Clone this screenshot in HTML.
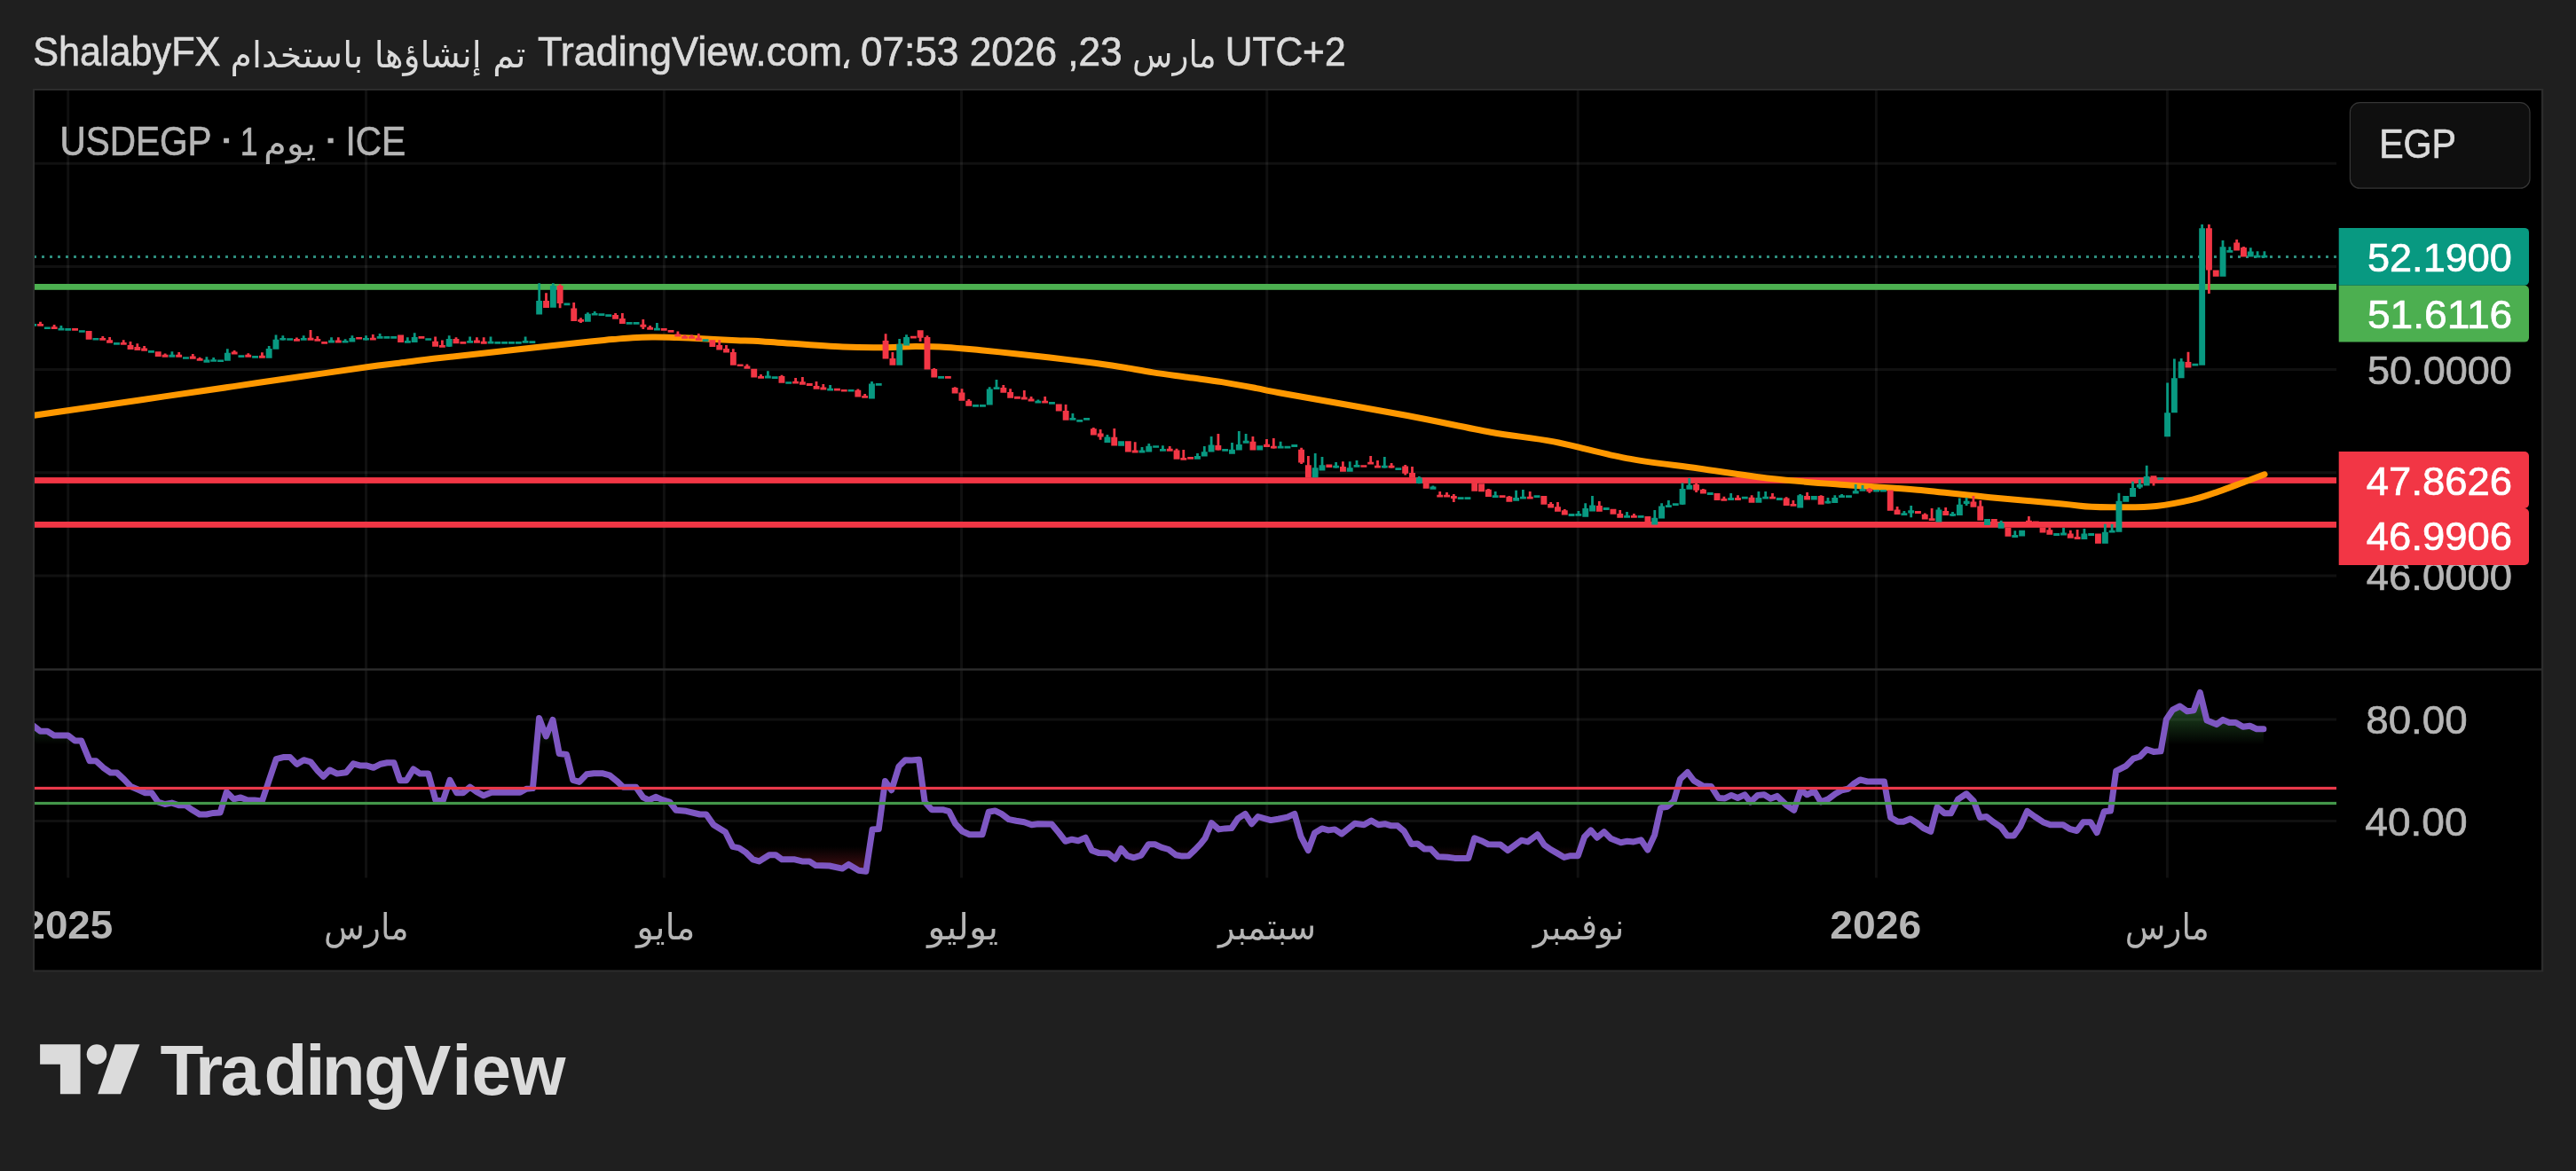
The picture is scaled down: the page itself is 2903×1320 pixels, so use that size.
<!DOCTYPE html><html lang="ar"><head><meta charset="utf-8"><title>USDEGP</title>
<style>html,body{margin:0;padding:0;background:#1f1f1f;}body{width:2903px;height:1320px;overflow:hidden;position:relative;}svg{position:absolute;left:0;top:0;display:block;will-change:transform;}text{font-family:'Liberation Sans','DejaVu Sans',sans-serif;}.ar{font-family:'DejaVu Sans','Liberation Sans',sans-serif;}</style></head><body>
<svg width="2903" height="1320" viewBox="0 0 2903 1320">
<defs>
<clipPath id="cp"><rect x="39" y="102" width="2594" height="991.5"/></clipPath>
<clipPath id="cbox"><rect x="39" y="102" width="2825" height="991.5"/></clipPath>
<linearGradient id="gUp" gradientUnits="userSpaceOnUse" x1="0" y1="782" x2="0" y2="839.5"><stop offset="0" stop-color="#4caf50" stop-opacity="0.55"/><stop offset="1" stop-color="#4caf50" stop-opacity="0"/></linearGradient>
<linearGradient id="gDn" gradientUnits="userSpaceOnUse" x1="0" y1="954.2" x2="0" y2="985"><stop offset="0" stop-color="#f23645" stop-opacity="0"/><stop offset="1" stop-color="#f23645" stop-opacity="0.32"/></linearGradient>
</defs>
<rect x="37" y="100" width="2829.3" height="995.5" fill="#2c2c2c"/>
<rect x="39" y="102" width="2825" height="991.5" fill="#000"/>
<g stroke="#fff" stroke-opacity="0.062" stroke-width="3">
<line x1="76.7" y1="102" x2="76.7" y2="989.5"/>
<line x1="412.5" y1="102" x2="412.5" y2="989.5"/>
<line x1="748.4" y1="102" x2="748.4" y2="989.5"/>
<line x1="1083.5" y1="102" x2="1083.5" y2="989.5"/>
<line x1="1427.8" y1="102" x2="1427.8" y2="989.5"/>
<line x1="1778.2" y1="102" x2="1778.2" y2="989.5"/>
<line x1="2114.4" y1="102" x2="2114.4" y2="989.5"/>
<line x1="2442.4" y1="102" x2="2442.4" y2="989.5"/>
<line x1="39" y1="184.3" x2="2633" y2="184.3"/>
<line x1="39" y1="300.4" x2="2633" y2="300.4"/>
<line x1="39" y1="416.6" x2="2633" y2="416.6"/>
<line x1="39" y1="532.8" x2="2633" y2="532.8"/>
<line x1="39" y1="648.9" x2="2633" y2="648.9"/>
<line x1="39" y1="810.9" x2="2633" y2="810.9"/>
<line x1="39" y1="925.5" x2="2633" y2="925.5"/>
</g>
<rect x="39" y="753.4" width="2825" height="2.4" fill="#2c2c2c"/>
<g clip-path="url(#cp)">
<line x1="38" y1="289.4" x2="2633" y2="289.4" stroke="#2d8d7d" stroke-width="3" stroke-dasharray="3 6"/>
<rect x="39" y="320.0" width="2594" height="6.8" fill="#4caf50"/>
<rect x="39" y="538.1" width="2594" height="6.8" fill="#f23645"/>
<rect x="39" y="588.0" width="2594" height="6.8" fill="#f23645"/>
<path d="M38.0,468.3C49.6,466.6 83.0,461.8 107.6,458.2C132.2,454.6 159.4,450.7 185.3,446.9C211.2,443.1 237.0,439.4 262.9,435.6C288.8,431.8 315.5,427.9 340.6,424.3C365.7,420.7 395.3,416.3 413.5,413.8C431.7,411.3 436.3,410.9 450.0,409.2C463.7,407.5 475.2,405.9 495.8,403.5C516.4,401.1 547.6,398.0 573.5,395.1C599.4,392.2 631.7,388.5 651.1,386.4C670.5,384.3 679.7,383.6 690.0,382.6C700.3,381.7 705.5,381.1 713.0,380.7C720.5,380.3 727.2,380.1 735.0,380.0C742.8,379.9 750.7,380.1 760.0,380.4C769.3,380.7 779.3,381.1 791.0,381.7C802.7,382.3 818.5,383.3 830.0,383.8C841.5,384.3 840.0,383.7 860.0,384.9C880.0,386.1 926.9,389.9 950.0,391.0C973.1,392.1 984.9,391.8 998.5,391.7C1012.1,391.6 1020.2,390.7 1031.5,390.6C1042.8,390.6 1054.2,390.7 1066.5,391.4C1078.8,392.1 1092.4,393.6 1105.3,394.8C1118.2,396.0 1131.2,397.3 1144.1,398.7C1157.0,400.1 1170.0,401.5 1182.9,403.0C1195.8,404.5 1208.8,406.1 1221.7,407.8C1234.7,409.5 1247.6,411.2 1260.6,413.2C1273.5,415.2 1286.5,417.9 1299.4,419.9C1312.3,421.9 1325.3,423.5 1338.2,425.3C1351.1,427.1 1364.1,428.6 1377.0,430.6C1389.9,432.7 1403.6,435.3 1415.8,437.6C1428.0,439.9 1421.6,439.1 1450.0,444.2C1478.4,449.3 1547.7,461.3 1586.0,468.5C1624.3,475.7 1652.5,482.3 1680.0,487.2C1707.5,492.1 1725.5,493.0 1751.0,497.9C1776.5,502.8 1805.8,511.6 1833.0,516.6C1860.2,521.6 1886.8,524.2 1914.0,528.0C1941.2,531.8 1967.5,536.3 1996.0,539.5C2024.5,542.7 2057.5,544.9 2085.0,547.0C2112.5,549.1 2134.7,549.9 2161.0,552.2C2187.3,554.5 2215.8,558.1 2243.0,560.7C2270.2,563.3 2305.0,566.2 2324.0,568.0C2343.0,569.8 2346.0,570.7 2357.0,571.3C2368.0,571.9 2377.8,571.9 2390.0,571.7C2402.2,571.6 2416.5,571.8 2430.0,570.4C2443.5,569.0 2459.3,565.8 2471.0,563.1C2482.7,560.4 2490.2,557.5 2500.0,554.1C2509.8,550.8 2521.3,546.2 2530.0,543.0C2538.7,539.8 2548.3,536.2 2552.0,534.8" fill="none" stroke="#ff9800" stroke-width="7" stroke-linecap="round" stroke-linejoin="round"/>
<path d="M42.1,364.9h6.9v2.8h-6.9zM44.1,362.8h2.8v4.9h-2.8zM57.7,368.2h6.9v2.8h-6.9zM59.7,366.0h2.8v4.9h-2.8zM81.1,370.1h6.9v2.6h-6.9zM96.7,373.0h6.9v9.8h-6.9zM112.3,381.0h6.9v2.8h-6.9zM114.4,379.1h2.8v4.7h-2.8zM120.1,383.2h6.9v3.6h-6.9zM122.2,379.9h2.8v6.8h-2.8zM135.8,385.9h6.9v2.8h-6.9zM137.8,383.2h2.8v5.5h-2.8zM143.6,388.9h6.9v5.2h-6.9zM145.6,385.1h2.8v9.0h-2.8zM151.4,391.0h6.9v3.9h-6.9zM153.4,387.2h2.8v7.7h-2.8zM159.2,392.6h6.9v3.1h-6.9zM161.2,390.0h2.8v5.7h-2.8zM174.8,396.2h6.9v5.7h-6.9zM182.6,399.8h6.9v2.9h-6.9zM184.7,398.6h2.8v4.1h-2.8zM198.2,399.8h6.9v2.9h-6.9zM200.3,397.0h2.8v5.7h-2.8zM213.8,401.4h6.9v3.3h-6.9zM215.9,399.0h2.8v5.7h-2.8zM221.7,403.9h6.9v2.9h-6.9zM223.7,402.7h2.8v4.1h-2.8zM260.7,396.5h6.9v2.9h-6.9zM262.7,394.9h2.8v4.6h-2.8zM276.3,399.8h6.9v2.9h-6.9zM278.4,398.2h2.8v4.6h-2.8zM291.9,400.8h6.9v2.9h-6.9zM294.0,397.3h2.8v6.4h-2.8zM331.0,382.0h6.9v2.8h-6.9zM333.0,380.4h2.8v4.4h-2.8zM346.6,380.7h6.9v3.1h-6.9zM348.6,372.1h2.8v11.7h-2.8zM354.4,382.0h6.9v2.8h-6.9zM356.4,379.1h2.8v5.7h-2.8zM362.2,385.1h6.9v2.6h-6.9zM377.8,383.6h6.9v2.8h-6.9zM379.9,380.2h2.8v6.2h-2.8zM401.2,379.9h6.9v2.6h-6.9zM416.9,380.7h6.9v2.9h-6.9zM418.9,377.1h2.8v6.5h-2.8zM448.1,377.4h6.9v8.5h-6.9zM471.5,379.1h6.9v2.6h-6.9zM487.1,384.8h6.9v6.0h-6.9zM489.2,379.4h2.8v11.4h-2.8zM494.9,388.9h6.9v2.8h-6.9zM497.0,383.5h2.8v8.2h-2.8zM510.5,382.0h6.9v5.2h-6.9zM512.6,380.2h2.8v7.0h-2.8zM518.4,385.1h6.9v2.6h-6.9zM534.0,383.6h6.9v3.1h-6.9zM536.0,380.2h2.8v6.5h-2.8zM541.8,384.8h6.9v2.9h-6.9zM543.8,380.2h2.8v7.5h-2.8zM612.1,339.1h6.9v7.8h-6.9zM614.1,330.2h2.8v16.8h-2.8zM627.7,322.0h6.9v19.9h-6.9zM629.7,320.4h2.8v26.9h-2.8zM643.3,347.6h6.9v14.3h-6.9zM645.3,341.1h2.8v20.9h-2.8zM651.1,360.0h6.9v2.8h-6.9zM653.1,358.2h2.8v5.7h-2.8zM690.1,355.1h6.9v4.7h-6.9zM692.2,353.0h2.8v6.8h-2.8zM697.9,359.0h6.9v5.9h-6.9zM700.0,353.0h2.8v11.9h-2.8zM721.4,365.7h6.9v3.1h-6.9zM723.4,360.0h2.8v10.9h-2.8zM729.2,368.8h6.9v2.9h-6.9zM731.2,366.9h2.8v4.9h-2.8zM744.8,370.1h6.9v2.6h-6.9zM752.6,372.1h6.9v2.6h-6.9zM760.4,376.6h6.9v2.9h-6.9zM762.5,373.4h2.8v6.2h-2.8zM768.2,379.1h6.9v2.6h-6.9zM770.3,377.8h2.8v3.9h-2.8zM776.0,379.1h6.9v2.6h-6.9zM778.1,377.4h2.8v4.2h-2.8zM783.8,380.7h6.9v3.3h-6.9zM785.9,376.1h2.8v7.8h-2.8zM799.4,383.2h6.9v7.7h-6.9zM807.3,388.9h6.9v5.7h-6.9zM809.3,383.2h2.8v11.4h-2.8zM815.1,392.9h6.9v4.6h-6.9zM817.1,388.9h2.8v8.6h-2.8zM822.9,397.0h6.9v14.7h-6.9zM824.9,393.3h2.8v18.4h-2.8zM830.7,410.4h6.9v2.6h-6.9zM838.5,412.5h6.9v3.3h-6.9zM840.5,410.4h2.8v5.4h-2.8zM846.3,415.8h6.9v9.8h-6.9zM854.1,424.0h6.9v2.8h-6.9zM856.1,422.0h2.8v4.7h-2.8zM877.5,424.0h6.9v7.7h-6.9zM879.6,422.8h2.8v8.8h-2.8zM893.1,429.7h6.9v2.9h-6.9zM895.2,425.9h2.8v6.7h-2.8zM900.9,430.2h6.9v3.6h-6.9zM903.0,425.1h2.8v8.6h-2.8zM908.8,432.1h6.9v2.8h-6.9zM916.6,435.1h6.9v3.6h-6.9zM918.6,430.0h2.8v8.6h-2.8zM924.4,436.5h6.9v2.9h-6.9zM926.4,432.9h2.8v6.5h-2.8zM940.0,437.8h6.9v2.8h-6.9zM947.8,439.0h6.9v2.6h-6.9zM963.4,439.8h6.9v7.8h-6.9zM965.5,438.6h2.8v9.0h-2.8zM971.2,446.0h6.9v2.8h-6.9zM973.3,443.9h2.8v4.9h-2.8zM994.6,384.0h6.9v20.4h-6.9zM996.7,376.2h2.8v28.2h-2.8zM1002.5,404.1h6.9v7.7h-6.9zM1004.5,397.1h2.8v14.7h-2.8zM1025.9,378.8h6.9v2.8h-6.9zM1033.7,372.3h6.9v8.5h-6.9zM1035.7,372.3h2.8v12.6h-2.8zM1041.5,379.9h6.9v36.7h-6.9zM1043.5,378.3h2.8v38.3h-2.8zM1049.3,416.1h6.9v9.5h-6.9zM1051.3,415.0h2.8v10.6h-2.8zM1064.9,424.0h6.9v2.8h-6.9zM1072.7,437.0h6.9v6.5h-6.9zM1074.8,436.2h2.8v7.3h-2.8zM1080.5,442.4h6.9v9.3h-6.9zM1082.6,438.2h2.8v13.5h-2.8zM1088.3,451.7h6.9v6.0h-6.9zM1090.4,450.1h2.8v7.7h-2.8zM1127.4,437.0h6.9v5.7h-6.9zM1129.4,434.1h2.8v8.6h-2.8zM1135.2,441.9h6.9v6.8h-6.9zM1137.2,438.2h2.8v10.6h-2.8zM1143.0,446.8h6.9v2.9h-6.9zM1150.8,447.6h6.9v2.9h-6.9zM1152.9,440.0h2.8v10.6h-2.8zM1158.6,449.6h6.9v2.9h-6.9zM1160.7,447.1h2.8v5.4h-2.8zM1174.2,451.7h6.9v2.8h-6.9zM1176.3,447.1h2.8v7.3h-2.8zM1189.8,455.4h6.9v8.2h-6.9zM1197.7,463.1h6.9v10.6h-6.9zM1199.7,456.1h2.8v17.6h-2.8zM1228.9,483.2h6.9v7.3h-6.9zM1230.9,481.9h2.8v8.6h-2.8zM1236.7,488.4h6.9v4.1h-6.9zM1238.7,484.0h2.8v11.7h-2.8zM1252.3,492.8h6.9v9.8h-6.9zM1254.4,483.0h2.8v19.6h-2.8zM1267.9,497.3h6.9v12.2h-6.9zM1275.7,507.6h6.9v2.9h-6.9zM1277.8,498.2h2.8v12.4h-2.8zM1314.8,505.7h6.9v3.1h-6.9zM1316.8,503.0h2.8v5.7h-2.8zM1322.6,507.6h6.9v10.1h-6.9zM1324.6,505.7h2.8v12.1h-2.8zM1330.4,516.1h6.9v2.6h-6.9zM1332.4,507.1h2.8v11.6h-2.8zM1338.2,515.0h6.9v2.8h-6.9zM1369.4,501.9h6.9v5.7h-6.9zM1371.5,488.9h2.8v18.8h-2.8zM1408.5,497.8h6.9v9.8h-6.9zM1410.5,492.1h2.8v15.5h-2.8zM1424.1,500.8h6.9v3.1h-6.9zM1426.1,494.9h2.8v9.0h-2.8zM1431.9,502.7h6.9v2.9h-6.9zM1433.9,494.1h2.8v11.6h-2.8zM1463.1,506.8h6.9v14.7h-6.9zM1465.2,504.8h2.8v18.3h-2.8zM1470.9,524.2h6.9v14.0h-6.9zM1473.0,514.1h2.8v24.1h-2.8zM1494.4,523.6h6.9v3.3h-6.9zM1510.0,525.9h6.9v5.9h-6.9zM1512.0,520.2h2.8v11.6h-2.8zM1533.4,524.2h6.9v2.6h-6.9zM1541.2,520.7h6.9v2.9h-6.9zM1543.3,514.1h2.8v9.5h-2.8zM1549.0,524.7h6.9v2.9h-6.9zM1551.1,519.0h2.8v8.6h-2.8zM1564.6,524.7h6.9v2.9h-6.9zM1566.7,522.0h2.8v5.7h-2.8zM1580.2,525.6h6.9v8.2h-6.9zM1582.3,523.9h2.8v11.7h-2.8zM1588.1,532.9h6.9v5.7h-6.9zM1590.1,526.0h2.8v12.6h-2.8zM1603.7,544.3h6.9v6.5h-6.9zM1619.3,557.8h6.9v2.8h-6.9zM1621.3,554.1h2.8v6.5h-2.8zM1627.1,557.8h6.9v2.8h-6.9zM1629.1,554.9h2.8v5.7h-2.8zM1634.9,559.0h6.9v2.9h-6.9zM1636.9,556.9h2.8v9.1h-2.8zM1658.3,544.3h6.9v9.5h-6.9zM1666.1,545.2h6.9v9.0h-6.9zM1673.9,551.7h6.9v8.2h-6.9zM1676.0,550.9h2.8v9.0h-2.8zM1689.6,558.2h6.9v2.8h-6.9zM1697.4,559.8h6.9v6.0h-6.9zM1699.4,559.0h2.8v6.8h-2.8zM1720.8,559.8h6.9v2.8h-6.9zM1722.8,554.1h2.8v8.5h-2.8zM1736.4,559.0h6.9v9.8h-6.9zM1744.2,568.0h6.9v4.6h-6.9zM1746.3,565.9h2.8v6.7h-2.8zM1752.0,571.3h6.9v5.4h-6.9zM1754.1,566.0h2.8v10.6h-2.8zM1759.8,575.3h6.9v5.2h-6.9zM1761.9,574.0h2.8v6.5h-2.8zM1798.9,570.0h6.9v6.7h-6.9zM1800.9,565.1h2.8v11.6h-2.8zM1814.5,573.7h6.9v6.0h-6.9zM1822.3,578.9h6.9v4.9h-6.9zM1824.3,575.0h2.8v8.8h-2.8zM1837.9,581.0h6.9v2.8h-6.9zM1840.0,578.9h2.8v4.9h-2.8zM1853.5,581.9h6.9v6.5h-6.9zM1908.2,546.0h6.9v6.8h-6.9zM1910.2,544.4h2.8v10.6h-2.8zM1916.0,551.7h6.9v4.9h-6.9zM1918.0,550.9h2.8v5.7h-2.8zM1931.6,556.1h6.9v7.8h-6.9zM1939.4,562.0h6.9v2.8h-6.9zM1941.5,559.8h2.8v4.9h-2.8zM1955.0,561.0h6.9v2.9h-6.9zM1957.1,558.2h2.8v5.7h-2.8zM1970.6,560.7h6.9v6.0h-6.9zM1972.7,558.2h2.8v8.5h-2.8zM1994.1,559.8h6.9v2.8h-6.9zM1996.1,556.1h2.8v6.5h-2.8zM2009.7,561.5h6.9v8.5h-6.9zM2011.7,560.2h2.8v9.8h-2.8zM2017.5,568.0h6.9v2.8h-6.9zM2019.5,563.9h2.8v6.8h-2.8zM2033.1,559.0h6.9v4.6h-6.9zM2035.2,555.0h2.8v8.6h-2.8zM2048.7,559.0h6.9v9.8h-6.9zM2050.8,558.2h2.8v10.6h-2.8zM2103.4,550.9h6.9v3.3h-6.9zM2105.4,550.1h2.8v5.7h-2.8zM2126.8,552.5h6.9v23.3h-6.9zM2134.6,574.5h6.9v5.4h-6.9zM2136.7,570.9h2.8v9.0h-2.8zM2158.0,576.1h6.9v2.8h-6.9zM2165.8,579.7h6.9v5.9h-6.9zM2167.9,578.6h2.8v7.0h-2.8zM2173.7,584.3h6.9v2.6h-6.9zM2175.7,572.9h2.8v14.0h-2.8zM2189.3,576.1h6.9v4.9h-6.9zM2191.3,572.1h2.8v9.0h-2.8zM2220.5,565.6h6.9v6.2h-6.9zM2222.5,559.0h2.8v12.7h-2.8zM2228.3,570.4h6.9v16.3h-6.9zM2230.4,563.9h2.8v22.8h-2.8zM2243.9,585.1h6.9v6.5h-6.9zM2259.5,594.9h6.9v9.8h-6.9zM2283.0,586.7h6.9v2.6h-6.9zM2285.0,581.9h2.8v7.5h-2.8zM2290.8,587.6h6.9v2.6h-6.9zM2298.6,594.6h6.9v6.0h-6.9zM2306.4,597.3h6.9v5.4h-6.9zM2308.4,594.6h2.8v8.2h-2.8zM2329.8,601.4h6.9v5.4h-6.9zM2331.9,597.8h2.8v9.0h-2.8zM2337.6,605.0h6.9v2.9h-6.9zM2339.7,596.9h2.8v11.1h-2.8zM2361.0,601.4h6.9v11.4h-6.9zM2423.5,536.2h6.9v7.7h-6.9zM2425.6,536.2h2.8v11.4h-2.8zM2462.5,408.0h6.9v6.5h-6.9zM2464.6,396.8h2.8v17.7h-2.8zM2486.0,257.3h6.9v47.3h-6.9zM2488.0,253.1h2.8v77.8h-2.8zM2493.8,304.6h6.9v7.1h-6.9zM2517.2,273.5h6.9v8.9h-6.9zM2519.3,270.1h2.8v12.3h-2.8zM2525.0,278.9h6.9v10.7h-6.9zM2527.1,278.0h2.8v11.6h-2.8z" fill="#f23645"/>
<path d="M34.3,364.9h6.9v2.8h-6.9zM36.3,362.8h2.8v4.9h-2.8zM49.9,368.5h6.9v2.6h-6.9zM65.5,369.8h6.9v2.8h-6.9zM67.5,366.9h2.8v5.7h-2.8zM73.3,370.1h6.9v2.6h-6.9zM88.9,372.2h6.9v2.6h-6.9zM104.5,381.0h6.9v2.6h-6.9zM128.0,386.1h6.9v2.6h-6.9zM167.0,395.1h6.9v2.6h-6.9zM190.4,399.8h6.9v2.9h-6.9zM192.5,396.2h2.8v6.5h-2.8zM206.0,402.2h6.9v2.6h-6.9zM229.5,405.5h6.9v3.3h-6.9zM231.5,402.2h2.8v6.5h-2.8zM237.3,405.2h6.9v2.6h-6.9zM239.3,403.0h2.8v4.7h-2.8zM245.1,405.5h6.9v2.6h-6.9zM252.9,397.8h6.9v9.0h-6.9zM254.9,393.3h2.8v13.5h-2.8zM268.5,400.3h6.9v2.6h-6.9zM284.1,401.1h6.9v2.6h-6.9zM299.7,392.9h6.9v10.8h-6.9zM301.8,390.0h2.8v13.7h-2.8zM307.5,382.8h6.9v10.9h-6.9zM309.6,377.4h2.8v16.3h-2.8zM315.3,381.0h6.9v2.6h-6.9zM317.4,378.3h2.8v5.4h-2.8zM323.2,381.2h6.9v2.6h-6.9zM338.8,381.0h6.9v2.8h-6.9zM340.8,378.3h2.8v5.5h-2.8zM370.0,383.6h6.9v2.8h-6.9zM372.1,380.2h2.8v6.2h-2.8zM385.6,384.0h6.9v2.6h-6.9zM387.7,382.3h2.8v4.2h-2.8zM393.4,381.0h6.9v4.6h-6.9zM395.5,378.3h2.8v7.3h-2.8zM409.0,381.0h6.9v2.6h-6.9zM411.1,378.3h2.8v5.4h-2.8zM424.7,379.1h6.9v2.6h-6.9zM426.7,376.1h2.8v5.5h-2.8zM432.5,379.1h6.9v2.6h-6.9zM440.3,379.1h6.9v2.6h-6.9zM455.9,384.0h6.9v2.8h-6.9zM457.9,380.2h2.8v6.5h-2.8zM463.7,379.9h6.9v6.0h-6.9zM465.8,375.3h2.8v10.6h-2.8zM479.3,381.2h6.9v2.6h-6.9zM502.7,382.0h6.9v8.8h-6.9zM504.8,378.3h2.8v12.6h-2.8zM526.2,384.0h6.9v2.8h-6.9zM528.2,379.4h2.8v7.3h-2.8zM549.6,384.8h6.9v2.8h-6.9zM551.6,379.4h2.8v8.2h-2.8zM557.4,385.1h6.9v2.6h-6.9zM565.2,385.1h6.9v2.6h-6.9zM573.0,385.1h6.9v2.6h-6.9zM580.8,385.1h6.9v2.6h-6.9zM588.6,384.0h6.9v2.8h-6.9zM590.7,379.4h2.8v7.3h-2.8zM596.4,384.3h6.9v2.6h-6.9zM604.2,339.1h6.9v15.5h-6.9zM606.3,319.2h2.8v35.4h-2.8zM619.9,322.0h6.9v24.8h-6.9zM621.9,319.2h2.8v27.6h-2.8zM635.5,341.6h6.9v2.6h-6.9zM658.9,353.8h6.9v9.0h-6.9zM661.0,352.2h2.8v10.6h-2.8zM666.7,353.0h6.9v2.6h-6.9zM668.8,351.0h2.8v4.6h-2.8zM674.5,353.3h6.9v2.6h-6.9zM682.3,354.3h6.9v2.6h-6.9zM705.7,363.1h6.9v2.6h-6.9zM713.6,363.1h6.9v2.6h-6.9zM737.0,369.8h6.9v2.8h-6.9zM739.0,364.1h2.8v8.5h-2.8zM791.6,382.3h6.9v2.6h-6.9zM861.9,423.6h6.9v2.8h-6.9zM864.0,418.3h2.8v8.2h-2.8zM869.7,424.3h6.9v2.6h-6.9zM885.3,430.2h6.9v2.6h-6.9zM932.2,437.8h6.9v2.8h-6.9zM934.2,434.1h2.8v6.5h-2.8zM955.6,439.0h6.9v2.6h-6.9zM979.0,432.5h6.9v17.1h-6.9zM981.1,430.0h2.8v19.6h-2.8zM986.8,432.1h6.9v2.6h-6.9zM1010.3,388.1h6.9v23.6h-6.9zM1012.3,382.1h2.8v29.7h-2.8zM1018.1,379.9h6.9v9.5h-6.9zM1020.1,377.2h2.8v12.2h-2.8zM1057.1,424.0h6.9v2.8h-6.9zM1096.1,456.1h6.9v2.6h-6.9zM1104.0,456.1h6.9v2.6h-6.9zM1111.8,438.6h6.9v17.9h-6.9zM1113.8,436.2h2.8v20.4h-2.8zM1119.6,436.2h6.9v2.8h-6.9zM1121.6,428.0h2.8v10.9h-2.8zM1166.4,451.7h6.9v2.8h-6.9zM1168.5,450.4h2.8v4.1h-2.8zM1182.0,453.0h6.9v2.8h-6.9zM1205.5,470.9h6.9v2.8h-6.9zM1207.5,466.0h2.8v7.7h-2.8zM1213.3,472.9h6.9v2.8h-6.9zM1221.1,470.9h6.9v2.8h-6.9zM1244.5,492.5h6.9v6.5h-6.9zM1246.5,490.0h2.8v9.0h-2.8zM1260.1,497.3h6.9v5.4h-6.9zM1283.5,507.6h6.9v2.9h-6.9zM1285.6,503.9h2.8v6.7h-2.8zM1291.3,502.7h6.9v6.8h-6.9zM1293.4,500.0h2.8v9.6h-2.8zM1299.2,502.2h6.9v2.6h-6.9zM1307.0,506.0h6.9v2.8h-6.9zM1309.0,502.2h2.8v6.5h-2.8zM1346.0,514.1h6.9v3.6h-6.9zM1348.1,510.9h2.8v6.8h-2.8zM1353.8,509.2h6.9v5.4h-6.9zM1355.9,503.0h2.8v11.6h-2.8zM1361.6,501.4h6.9v8.2h-6.9zM1363.7,492.1h2.8v17.4h-2.8zM1377.2,506.0h6.9v2.8h-6.9zM1385.0,506.8h6.9v4.9h-6.9zM1387.1,499.0h2.8v12.7h-2.8zM1392.9,501.1h6.9v6.5h-6.9zM1394.9,485.9h2.8v21.7h-2.8zM1400.7,496.7h6.9v3.1h-6.9zM1402.7,488.9h2.8v10.9h-2.8zM1416.3,502.2h6.9v5.4h-6.9zM1439.7,502.7h6.9v2.9h-6.9zM1441.7,497.8h2.8v7.8h-2.8zM1447.5,502.7h6.9v2.9h-6.9zM1455.3,501.1h6.9v2.8h-6.9zM1478.7,527.2h6.9v11.1h-6.9zM1480.8,510.9h2.8v27.4h-2.8zM1486.5,524.2h6.9v6.2h-6.9zM1488.6,515.0h2.8v15.5h-2.8zM1502.2,524.7h6.9v2.9h-6.9zM1504.2,521.0h2.8v6.7h-2.8zM1517.8,527.2h6.9v4.6h-6.9zM1519.8,520.2h2.8v11.6h-2.8zM1525.6,523.9h6.9v2.9h-6.9zM1527.6,519.0h2.8v7.8h-2.8zM1556.8,524.7h6.9v2.9h-6.9zM1558.9,515.0h2.8v12.7h-2.8zM1572.4,527.2h6.9v2.8h-6.9zM1595.9,538.6h6.9v6.5h-6.9zM1597.9,537.0h2.8v8.2h-2.8zM1611.5,548.4h6.9v3.3h-6.9zM1613.5,547.6h2.8v4.1h-2.8zM1642.7,560.3h6.9v2.6h-6.9zM1650.5,560.3h6.9v2.6h-6.9zM1681.7,558.2h6.9v2.8h-6.9zM1683.8,554.1h2.8v6.8h-2.8zM1705.2,561.0h6.9v3.8h-6.9zM1707.2,552.8h2.8v11.9h-2.8zM1713.0,559.8h6.9v2.8h-6.9zM1715.0,552.0h2.8v10.6h-2.8zM1728.6,558.2h6.9v2.8h-6.9zM1767.6,579.1h6.9v2.8h-6.9zM1775.4,578.9h6.9v2.9h-6.9zM1777.5,576.1h2.8v5.7h-2.8zM1783.3,572.9h6.9v9.8h-6.9zM1785.3,567.2h2.8v15.5h-2.8zM1791.1,569.6h6.9v7.0h-6.9zM1793.1,559.0h2.8v17.6h-2.8zM1806.7,572.1h6.9v2.8h-6.9zM1830.1,581.0h6.9v2.8h-6.9zM1832.1,577.0h2.8v6.8h-2.8zM1845.7,581.0h6.9v2.8h-6.9zM1861.3,583.8h6.9v7.8h-6.9zM1863.4,575.0h2.8v16.6h-2.8zM1869.1,570.4h6.9v14.2h-6.9zM1871.2,567.2h2.8v17.4h-2.8zM1876.9,569.3h6.9v2.8h-6.9zM1879.0,563.9h2.8v8.2h-2.8zM1884.8,567.2h6.9v2.8h-6.9zM1892.6,550.9h6.9v17.9h-6.9zM1894.6,544.4h2.8v24.5h-2.8zM1900.4,546.8h6.9v4.9h-6.9zM1902.4,539.0h2.8v12.7h-2.8zM1923.8,555.0h6.9v2.9h-6.9zM1947.2,561.0h6.9v2.9h-6.9zM1949.3,556.1h2.8v7.8h-2.8zM1962.8,559.8h6.9v2.8h-6.9zM1978.5,561.0h6.9v5.7h-6.9zM1980.5,554.1h2.8v12.6h-2.8zM1986.3,559.8h6.9v2.8h-6.9zM1988.3,554.1h2.8v8.5h-2.8zM2001.9,561.0h6.9v2.9h-6.9zM2025.3,558.2h6.9v14.3h-6.9zM2027.3,556.9h2.8v15.7h-2.8zM2040.9,559.0h6.9v4.6h-6.9zM2056.5,564.7h6.9v2.9h-6.9zM2058.6,561.0h2.8v6.7h-2.8zM2064.3,561.0h6.9v5.9h-6.9zM2066.4,558.2h2.8v8.6h-2.8zM2072.1,558.2h6.9v2.8h-6.9zM2074.2,556.9h2.8v4.1h-2.8zM2080.0,558.2h6.9v2.8h-6.9zM2087.8,553.3h6.9v3.3h-6.9zM2089.8,546.0h2.8v10.6h-2.8zM2095.6,550.9h6.9v2.8h-6.9zM2097.6,547.1h2.8v6.5h-2.8zM2111.2,552.0h6.9v2.6h-6.9zM2119.0,552.0h6.9v2.6h-6.9zM2142.4,578.3h6.9v2.8h-6.9zM2144.5,576.1h2.8v4.9h-2.8zM2150.2,575.3h6.9v3.3h-6.9zM2152.3,570.0h2.8v13.2h-2.8zM2181.5,574.5h6.9v13.9h-6.9zM2183.5,572.1h2.8v16.3h-2.8zM2197.1,578.9h6.9v2.9h-6.9zM2199.1,577.0h2.8v4.9h-2.8zM2204.9,568.8h6.9v12.2h-6.9zM2206.9,561.5h2.8v19.6h-2.8zM2212.7,564.7h6.9v3.3h-6.9zM2214.7,561.0h2.8v9.0h-2.8zM2236.1,585.1h6.9v6.8h-6.9zM2251.7,589.2h6.9v6.5h-6.9zM2253.8,586.7h2.8v9.0h-2.8zM2267.3,603.1h6.9v2.8h-6.9zM2269.4,598.2h2.8v7.7h-2.8zM2275.2,597.8h6.9v6.8h-6.9zM2314.2,601.1h6.9v2.8h-6.9zM2322.0,600.6h6.9v2.9h-6.9zM2324.1,594.9h2.8v8.6h-2.8zM2345.4,601.4h6.9v6.5h-6.9zM2347.5,596.0h2.8v11.9h-2.8zM2353.2,601.1h6.9v2.8h-6.9zM2368.9,599.8h6.9v13.0h-6.9zM2370.9,590.8h2.8v22.0h-2.8zM2376.7,597.8h6.9v2.8h-6.9zM2378.7,590.8h2.8v9.8h-2.8zM2384.5,564.7h6.9v35.1h-6.9zM2386.5,555.8h2.8v44.0h-2.8zM2392.3,559.0h6.9v6.8h-6.9zM2400.1,550.1h6.9v9.8h-6.9zM2402.1,542.7h2.8v17.1h-2.8zM2407.9,546.0h6.9v3.6h-6.9zM2409.9,540.3h2.8v10.6h-2.8zM2415.7,537.0h6.9v10.6h-6.9zM2417.8,524.8h2.8v22.8h-2.8zM2431.3,538.2h6.9v2.6h-6.9zM2439.1,465.2h6.9v27.0h-6.9zM2441.2,431.4h2.8v60.8h-2.8zM2446.9,426.3h6.9v38.9h-6.9zM2449.0,404.6h2.8v60.6h-2.8zM2454.7,407.5h6.9v18.8h-6.9zM2456.8,404.0h2.8v22.3h-2.8zM2470.4,409.7h6.9v2.8h-6.9zM2478.2,257.3h6.9v154.4h-6.9zM2480.2,253.1h2.8v158.6h-2.8zM2501.6,278.3h6.9v33.4h-6.9zM2503.6,271.1h2.8v40.6h-2.8zM2509.4,282.0h6.9v2.8h-6.9zM2511.4,278.3h2.8v6.5h-2.8zM2532.8,283.6h6.9v6.0h-6.9zM2534.9,279.2h2.8v10.4h-2.8zM2540.6,287.8h6.9v2.6h-6.9zM2542.7,283.3h2.8v7.1h-2.8zM2548.4,287.8h6.9v2.6h-6.9zM2550.5,283.3h2.8v7.1h-2.8z" fill="#089981"/>
<path d="M38.2,839.5L38.2,818.6L45.4,824.2L53.3,824.2L60.9,828.9L69.1,828.9L76.7,828.9L84.5,835.1L91.7,835.1L93.5,839.5z" fill="url(#gUp)"/>
<path d="M604.9,839.5L607.6,809.4L615.4,830.0L623.0,811.4L628.3,839.5z" fill="url(#gUp)"/>
<path d="M2436.4,839.5L2441.3,811.0L2448.5,800.1L2456.7,796.0L2464.9,801.8L2472.1,800.7L2479.3,780.6L2487.0,812.1L2497.9,816.6L2505.1,811.4L2512.3,814.5L2519.5,814.5L2527.7,819.3L2535.5,818.2L2543.1,821.7L2550.9,821.7L2550.9,839.5z" fill="url(#gUp)"/>
<path d="M825.6,954.1L825.7,954.4L832.9,955.9L840.1,960.6L848.4,968.8L855.6,970.9L866.9,963.7L874.1,963.7L881.3,968.8L895.7,968.8L903.9,970.9L912.1,970.9L919.3,975.6L934.8,976.0L949.2,979.1L956.4,974.4L967.7,981.2L975.9,982.2L980.2,954.1z" fill="url(#gDn)"/>
<path d="M1228.3,954.1L1230.5,958.6L1238.7,961.6L1249.0,962.1L1256.8,968.2L1263.4,956.5L1270.6,964.7L1277.8,966.8L1286.0,964.1L1292.7,954.1z" fill="url(#gDn)"/>
<path d="M1306.6,954.1L1308.7,955.1L1316.9,957.5L1325.1,963.7L1332.3,965.1L1339.5,964.7L1346.7,957.9L1350.3,954.1z" fill="url(#gDn)"/>
<path d="M1471.9,954.1L1474.3,958.6L1475.9,954.1z" fill="url(#gDn)"/>
<path d="M1601.5,954.1L1605.4,957.1L1612.6,957.1L1620.9,965.8L1631.2,966.2L1639.4,967.4L1654.8,967.4L1658.8,954.1z" fill="url(#gDn)"/>
<path d="M1693.5,954.1L1699.1,958.6L1705.3,954.1z" fill="url(#gDn)"/>
<path d="M1742.7,954.1L1747.4,957.5L1754.6,961.6L1762.8,966.4L1770.0,964.7L1778.3,964.7L1781.9,954.1z" fill="url(#gDn)"/>
<path d="M1854.2,954.1L1856.9,958.1L1858.7,954.1z" fill="url(#gDn)"/>
<path d="M38.2,818.6L45.4,824.2L53.3,824.2L60.9,828.9L69.1,828.9L76.7,828.9L84.5,835.1L91.7,835.1L101.0,857.7L108.2,857.7L116.4,865.3L124.7,871.1L131.9,871.1L140.1,878.9L147.3,886.5L155.5,890.0L163.7,893.7L170.9,893.7L178.1,904.0L185.8,906.5L193.6,905.1L201.4,907.7L209.0,907.7L217.2,913.3L224.9,918.0L232.7,918.0L240.5,916.4L248.1,916.0L255.3,892.7L263.5,900.9L271.2,898.9L279.0,902.0L286.8,902.0L295.4,903.0L302.6,881.4L311.3,855.7L319.1,853.6L326.9,853.6L334.5,861.4L342.3,856.7L350.0,858.8L358.2,869.1L364.4,875.2L371.6,868.0L379.8,872.1L390.1,870.7L398.3,860.8L405.5,862.9L412.7,862.9L420.9,865.3L429.2,861.2L436.4,859.8L444.0,859.8L450.8,879.8L458.0,879.8L465.8,867.0L473.4,872.1L482.7,872.1L490.9,902.0L499.1,903.0L507.0,879.3L514.6,893.7L521.8,893.7L529.6,887.2L537.2,892.7L545.0,896.8L552.6,893.7L554.1,893.3L586.0,893.3L593.2,889.2L600.4,888.6L607.6,809.4L615.4,830.0L623.0,811.4L630.2,849.5L638.5,850.5L645.7,879.3L652.9,881.4L661.1,872.8L669.3,871.7L678.6,871.7L686.8,873.8L695.1,880.4L702.3,887.2L716.7,887.2L724.9,898.9L731.1,902.0L738.9,898.3L746.5,901.6L754.7,904.0L761.9,913.3L773.3,914.3L788.7,918.0L795.9,918.0L804.1,929.8L817.5,938.0L825.7,954.4L832.9,955.9L840.1,960.6L848.4,968.8L855.6,970.9L866.9,963.7L874.1,963.7L881.3,968.8L895.7,968.8L903.9,970.9L912.1,970.9L919.3,975.6L934.8,976.0L949.2,979.1L956.4,974.4L967.7,981.2L975.9,982.2L983.1,934.9L990.3,934.5L997.5,880.4L1004.7,890.7L1013.0,863.9L1020.2,856.7L1027.4,857.1L1035.6,856.3L1042.2,904.0L1050.0,912.7L1062.3,912.7L1069.5,914.7L1076.7,928.7L1084.4,937.0L1092.6,940.7L1107.0,940.7L1114.2,915.3L1121.4,913.9L1128.6,917.4L1136.9,923.6L1145.1,925.2L1154.4,926.7L1162.6,929.8L1169.8,928.7L1185.2,929.1L1193.5,939.0L1200.7,948.3L1207.9,946.2L1215.1,947.7L1223.3,944.2L1230.5,958.6L1238.7,961.6L1249.0,962.1L1256.8,968.2L1263.4,956.5L1270.6,964.7L1277.8,966.8L1286.0,964.1L1294.3,951.8L1301.5,951.8L1308.7,955.1L1316.9,957.5L1325.1,963.7L1332.3,965.1L1339.5,964.7L1346.7,957.9L1352.9,951.4L1358.1,944.8L1365.3,927.7L1373.5,934.9L1380.7,933.9L1387.9,933.5L1395.1,922.6L1403.3,917.4L1410.5,928.7L1417.7,920.5L1424.9,922.6L1432.1,924.6L1440.4,923.2L1450.7,921.1L1458.9,917.4L1466.1,943.1L1474.3,958.6L1481.5,939.0L1489.8,933.9L1497.0,935.9L1504.2,934.9L1512.0,940.0L1519.6,933.9L1526.8,928.3L1537.1,929.8L1545.3,925.0L1553.5,929.8L1560.7,928.7L1567.9,930.8L1575.1,930.8L1582.3,937.0L1590.6,951.4L1597.2,950.9L1605.4,957.1L1612.6,957.1L1620.9,965.8L1631.2,966.2L1639.4,967.4L1654.8,967.4L1661.6,944.8L1669.2,947.7L1677.4,951.8L1690.8,952.0L1699.1,958.6L1706.3,953.4L1714.5,947.2L1721.7,948.9L1732.6,940.7L1740.2,952.4L1747.4,957.5L1754.6,961.6L1762.8,966.4L1770.0,964.7L1778.3,964.7L1785.5,943.5L1792.7,935.9L1799.9,944.2L1807.7,937.6L1815.3,945.2L1826.6,949.7L1833.8,948.3L1841.0,948.9L1849.3,946.8L1856.9,958.1L1864.7,941.1L1871.5,910.6L1879.1,909.2L1886.3,903.0L1893.5,878.3L1901.7,870.5L1908.9,880.0L1919.2,886.1L1928.5,886.5L1936.7,899.5L1943.9,899.9L1951.1,896.4L1958.3,899.5L1966.1,895.8L1972.7,904.0L1980.9,896.4L1988.1,895.8L1995.3,900.3L2002.6,897.4L2013.9,908.1L2021.7,913.3L2029.3,890.7L2036.5,895.8L2044.7,891.7L2051.9,904.0L2060.2,900.9L2068.4,894.8L2075.6,890.7L2082.8,889.2L2089.0,883.5L2096.2,878.9L2104.4,881.0L2110.0,881.0L2123.4,881.0L2130.6,921.5L2138.8,926.3L2145.0,926.3L2152.8,923.0L2160.4,927.7L2167.6,933.5L2175.8,937.4L2183.0,909.8L2191.3,916.8L2198.5,916.8L2206.7,900.9L2216.0,894.8L2224.2,903.0L2231.4,921.5L2238.6,920.5L2245.8,926.3L2255.1,932.4L2262.3,942.1L2269.5,942.1L2276.7,931.8L2284.5,914.3L2293.1,920.5L2302.4,926.7L2310.6,929.8L2325.0,929.8L2332.2,934.3L2340.5,936.5L2347.7,926.7L2355.9,926.7L2363.1,938.6L2371.3,914.7L2378.5,913.9L2384.7,869.1L2396.0,863.3L2404.2,855.1L2411.4,853.0L2419.3,844.8L2426.9,847.4L2435.1,846.8L2441.3,811.0L2448.5,800.1L2456.7,796.0L2464.9,801.8L2472.1,800.7L2479.3,780.6L2487.0,812.1L2497.9,816.6L2505.1,811.4L2512.3,814.5L2519.5,814.5L2527.7,819.3L2535.5,818.2L2543.1,821.7L2550.9,821.7" fill="none" stroke="#7e57c2" stroke-width="7" stroke-linejoin="round" stroke-linecap="round"/>
<rect x="39" y="886.9" width="2594" height="3.2" fill="#e8394a"/>
<rect x="39" y="903.9" width="2594" height="3.2" fill="#43974a"/>
</g>
<g clip-path="url(#cbox)">
<text transform="translate(2668.02,432.60) scale(1.0240,1.0000)" font-size="44" fill="#b5b5b5" stroke="#b5b5b5" stroke-width="0.7">50.0000</text>
<text transform="translate(2666.86,665.00) scale(1.0313,1.0000)" font-size="44" fill="#b5b5b5" stroke="#b5b5b5" stroke-width="0.7">46.0000</text>
<text transform="translate(2666.30,827.20) scale(1.0374,1.0000)" font-size="44" fill="#b5b5b5" stroke="#b5b5b5" stroke-width="0.7">80.00</text>
<text transform="translate(2665.34,941.50) scale(1.0462,1.0000)" font-size="44" fill="#b5b5b5" stroke="#b5b5b5" stroke-width="0.7">40.00</text>
<path d="M2635.7,256.9H2845a5,5 0 0 1 5,5V316.7a5,5 0 0 1 -5,5H2635.7z" fill="#089981"/>
<text transform="translate(2668.02,305.80) scale(1.0240,1.0000)" font-size="44" fill="#ffffff" stroke="#ffffff" stroke-width="0.7">52.1900</text>
<path d="M2635.7,321.7H2845a5,5 0 0 1 5,5V380.6a5,5 0 0 1 -5,5H2635.7z" fill="#4caf50"/>
<text transform="translate(2667.97,369.60) scale(1.0480,1.0000)" font-size="44" fill="#ffffff" stroke="#ffffff" stroke-width="0.7">51.6116</text>
<path d="M2635.7,509.1H2845a5,5 0 0 1 5,5V568.0a5,5 0 0 1 -5,5H2635.7z" fill="#f23645"/>
<text transform="translate(2666.85,557.60) scale(1.0327,1.0000)" font-size="44" fill="#ffffff" stroke="#ffffff" stroke-width="0.7">47.8626</text>
<path d="M2635.7,573.0H2845a5,5 0 0 1 5,5V631.9a5,5 0 0 1 -5,5H2635.7z" fill="#f23645"/>
<text transform="translate(2666.85,620.00) scale(1.0327,1.0000)" font-size="44" fill="#ffffff" stroke="#ffffff" stroke-width="0.7">46.9906</text>
<rect x="2648.4" y="115.6" width="202.6" height="96.6" rx="11" ry="11" fill="#0f0f0f" stroke="#363636" stroke-width="1.2"/>
<text transform="translate(2681.16,178.00) scale(0.9047,1.0000)" font-size="45.5" fill="#dbdbdb" stroke="#dbdbdb" stroke-width="0.7">EGP</text>
<text transform="translate(67.50,175.00) scale(0.8910,1.0000)" font-size="45.5" fill="#b5b5b5" stroke="#b5b5b5" stroke-width="0.7">USDEGP</text>
<text transform="translate(246.37,171.30) scale(1.1738,1.0000)" font-size="45.5" fill="#b5b5b5" stroke="#b5b5b5" stroke-width="0.7">·</text>
<text transform="translate(270.79,175.00) scale(0.8102,1.0000)" font-size="44" fill="#b5b5b5" stroke="#b5b5b5" stroke-width="0.7">1</text>
<text transform="translate(296.99,175.00) scale(1.0449,1.0000)" font-size="40" fill="#b5b5b5" class="ar">يوم</text>
<text transform="translate(363.55,171.30) scale(1.1964,1.0000)" font-size="45.5" fill="#b5b5b5" stroke="#b5b5b5" stroke-width="0.7">·</text>
<text transform="translate(389.53,175.00) scale(0.8922,1.0000)" font-size="45.5" fill="#b5b5b5" stroke="#b5b5b5" stroke-width="0.7">ICE</text>
<text transform="translate(25.44,1058.40) scale(1.0409,1.0000)" font-size="44" fill="#b5b5b5" font-weight="700">2025</text>
<text transform="translate(2062.32,1058.40) scale(1.0505,1.0000)" font-size="44" fill="#b5b5b5" font-weight="700">2026</text>
<text transform="translate(365.04,1059.20) scale(0.9158,1.0000)" font-size="41" fill="#b5b5b5" class="ar">مارس</text>
<text transform="translate(717.19,1059.20) scale(0.9895,1.0000)" font-size="41" fill="#b5b5b5" class="ar">مايو</text>
<text transform="translate(1045.24,1059.20) scale(1.0149,1.0000)" font-size="41" fill="#b5b5b5" class="ar">يوليو</text>
<text transform="translate(1373.10,1059.20) scale(0.9345,1.0000)" font-size="41" fill="#b5b5b5" class="ar">سبتمبر</text>
<text transform="translate(1727.78,1059.20) scale(0.9241,1.0000)" font-size="41" fill="#b5b5b5" class="ar">نوفمبر</text>
<text transform="translate(2394.65,1059.20) scale(0.9128,1.0000)" font-size="41" fill="#b5b5b5" class="ar">مارس</text>
</g>
<text transform="translate(37.17,74.30) scale(0.9489,1.0000)" font-size="45.5" fill="#dbdbdb" stroke="#dbdbdb" stroke-width="0.7">ShalabyFX</text>
<text transform="translate(259.58,75.80) scale(0.9628,1.0000)" font-size="41" fill="#dbdbdb" class="ar">تم إنشاؤها باستخدام</text>
<text transform="translate(605.90,74.30) scale(0.9905,1.0000)" font-size="45.5" fill="#dbdbdb" stroke="#dbdbdb" stroke-width="0.7">TradingView.com</text>
<text transform="translate(946.13,77.00) scale(1.0884,1.0000)" font-size="41" fill="#dbdbdb" class="ar">،</text>
<text transform="translate(969.90,74.40) scale(1.0043,1.0452)" font-size="44" fill="#dbdbdb" stroke="#dbdbdb" stroke-width="0.7" direction="rtl" unicode-bidi="embed" text-anchor="end">23, 2026 07:53</text>
<text transform="translate(1276.04,76.30) scale(0.8975,1.0000)" font-size="41.5" fill="#dbdbdb" class="ar">مارس</text>
<text transform="translate(1380.75,74.30) scale(0.9339,1.0000)" font-size="45.5" fill="#dbdbdb" stroke="#dbdbdb" stroke-width="0.7">UTC+2</text>
<g fill="#dbdbdb"><path d="M45.1,1177.3H90.6V1233.3H67.9V1199.7H45.1z"/><circle cx="109" cy="1188.6" r="11.3"/><path d="M129.7,1177.3H157.4L136,1233.3H110.2z"/></g>
<text x="180.6 220.0 248.4 297.4 344.2 362.8 410.1 455.1 509.3 531.4 575.3" y="1233.8" font-size="80" font-weight="700" fill="#dbdbdb">TradingView</text>
</svg></body></html>
